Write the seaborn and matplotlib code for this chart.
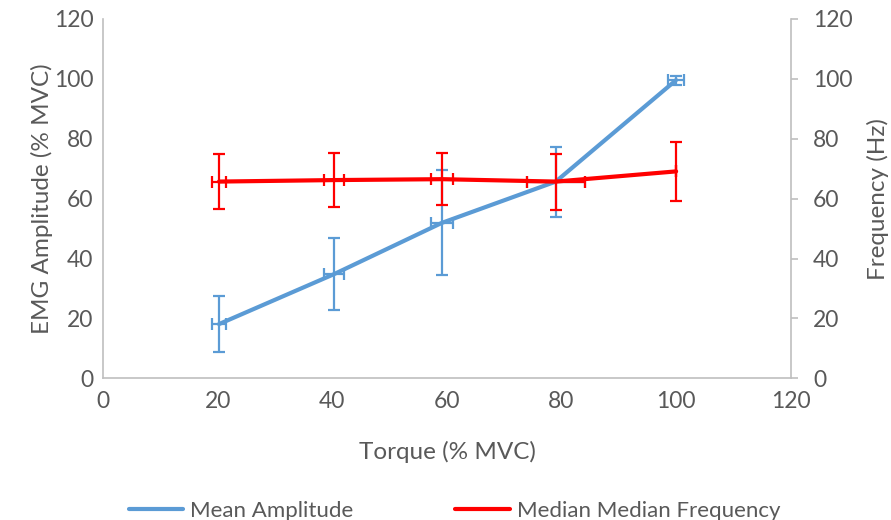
import matplotlib
matplotlib.use("Agg")
import matplotlib.pyplot as plt
from matplotlib.lines import Line2D
import seaborn as sns
import pandas as pd

# ---- data ----
torque = [20.2, 40.3, 59.1, 79.0, 100.0]
mean_amplitude = [18.1, 34.8, 51.9, 65.7, 99.6]
mean_amplitude_err = [9.3, 12.0, 17.5, 11.7, 1.5]
torque_err_amp = [1.15, 1.75, 1.9, 5.1, 1.4]
median_freq = [65.7, 66.2, 66.5, 65.7, 69.1]
median_freq_err = [9.1, 8.9, 8.7, 9.35, 9.9]
torque_err_freq = [1.15, 1.75, 1.9, 5.1, 0.0]
ticks = [0, 20, 40, 60, 80, 100, 120]

BLUE = "#5B9BD5"
RED = "#FF0000"
TXT = "#595959"
AXC = "#BFBFBF"

sns.set_theme(style="white")
plt.rcParams["font.family"] = ["Lato", "DejaVu Sans"]

df = pd.DataFrame({"torque": torque, "amp": mean_amplitude, "freq": median_freq})

fig = plt.figure(figsize=(8.91, 5.20), dpi=100)
ax = fig.add_axes([0.1159, 0.2725, 0.7715, 0.691])
ax2 = ax.twinx()

# blue series on primary axis
ax.errorbar(torque, mean_amplitude, yerr=mean_amplitude_err, xerr=torque_err_amp,
            fmt="none", ecolor=BLUE, elinewidth=1.6, capsize=4.5, capthick=1.6, zorder=2)
sns.lineplot(data=df, x="torque", y="amp", ax=ax, color=BLUE, linewidth=3.0,
             sort=False, legend=False, zorder=3)

# red series on secondary axis
ax2.errorbar(torque, median_freq, yerr=median_freq_err, xerr=torque_err_freq,
             fmt="none", ecolor=RED, elinewidth=1.6, capsize=4.5, capthick=1.6, zorder=2)
sns.lineplot(data=df, x="torque", y="freq", ax=ax2, color=RED, linewidth=3.0,
             sort=False, legend=False, zorder=3)

for a in (ax, ax2):
    a.set_xlim(0, 120)
    a.set_ylim(0, 120)
    a.set_yticks(ticks)
    for s in a.spines.values():
        s.set_color(AXC)
        s.set_linewidth(1.2)
    a.spines["top"].set_visible(False)
    a.grid(False)

ax.set_xticks(ticks)
ax.spines["right"].set_visible(False)
ax2.spines["left"].set_visible(False)
ax2.spines["bottom"].set_visible(False)

ax.tick_params(axis="both", which="major", length=0, labelsize=16.5, labelcolor=TXT)
ax.tick_params(axis="y", pad=7)
ax.tick_params(axis="x", pad=9)
ax2.tick_params(axis="y", which="major", length=5, width=1.2, color=AXC,
                direction="out", labelsize=16.5, labelcolor=TXT, pad=11)

ax.set_xlabel("Torque (% MVC)", fontsize=17.5, color=TXT, labelpad=21)
ax.set_ylabel("EMG Amplitude (% MVC)", fontsize=17.5, color=TXT, labelpad=1)
ax2.set_ylabel("Frequency (Hz)", fontsize=17.5, color=TXT, labelpad=10)

handles = [Line2D([], [], color=BLUE, linewidth=3.0),
           Line2D([], [], color=RED, linewidth=3.0)]
fig.legend(handles, ["Mean Amplitude", "Median Median Frequency"],
           loc="lower center", bbox_to_anchor=(0.51, -0.04), ncol=2, frameon=False,
           fontsize=16, labelcolor=TXT, handlelength=2.45, handletextpad=0.3,
           columnspacing=4.6)

fig.savefig("out.png", dpi=100)
